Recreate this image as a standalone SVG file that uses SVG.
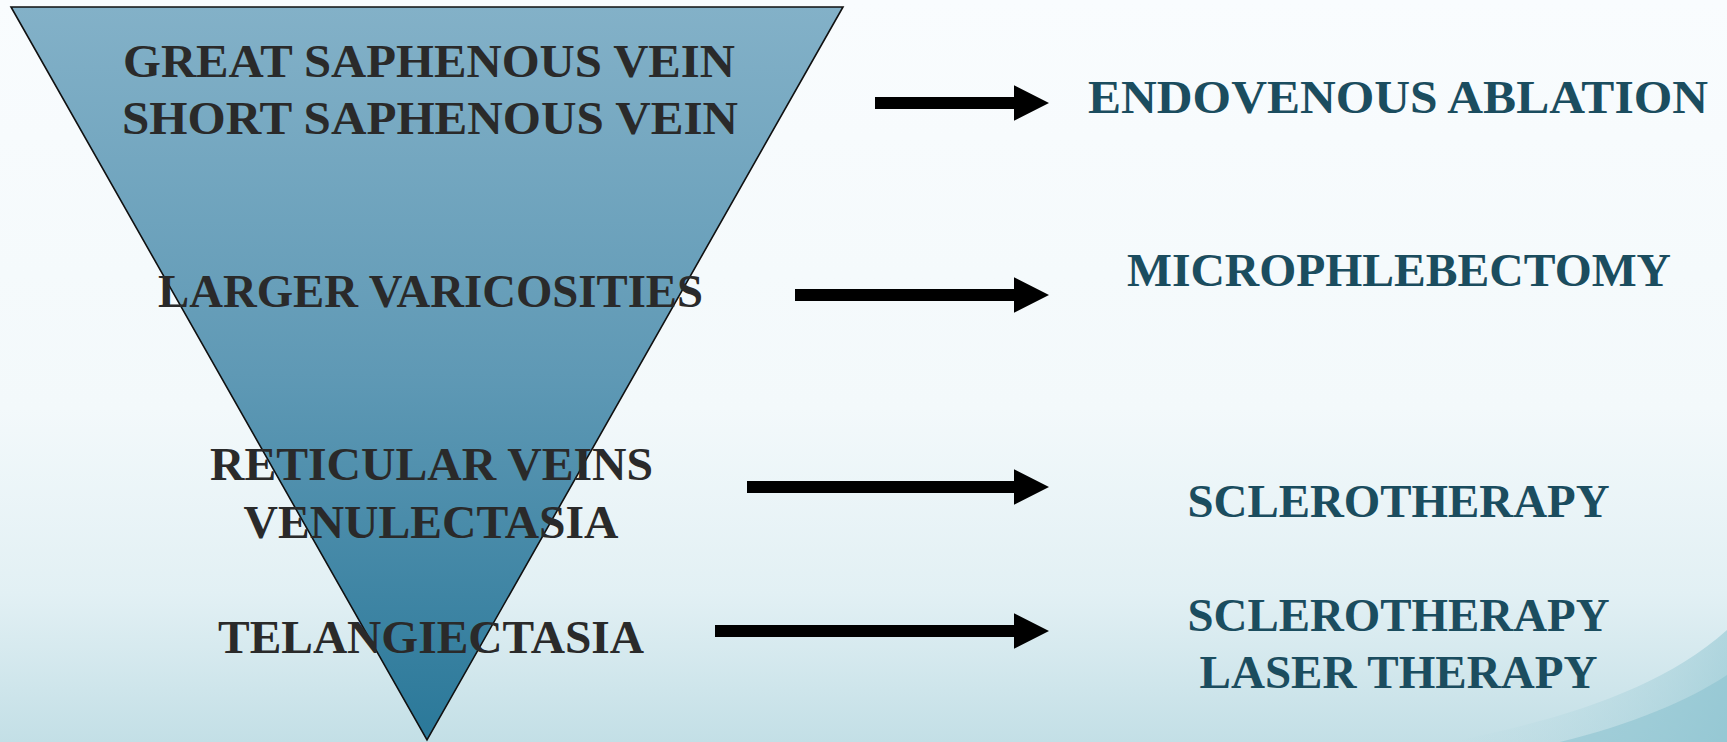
<svg xmlns="http://www.w3.org/2000/svg" width="1727" height="742" viewBox="0 0 1727 742">
  <defs>
    <linearGradient id="bg" x1="0" y1="0" x2="0" y2="1">
      <stop offset="0" stop-color="#f9fcfe"/>
      <stop offset="0.55" stop-color="#f3f9fb"/>
      <stop offset="0.8" stop-color="#e2f0f4"/>
      <stop offset="1" stop-color="#c3dfe6"/>
    </linearGradient>
    <linearGradient id="swoosh" x1="0" y1="0" x2="1" y2="0">
      <stop offset="0" stop-color="#b5d9e1" stop-opacity="0"/>
      <stop offset="1" stop-color="#8ec4d0"/>
    </linearGradient>
    <linearGradient id="tri" x1="0" y1="0" x2="0" y2="1">
      <stop offset="0" stop-color="#83b1c8"/>
      <stop offset="0.5" stop-color="#5f99b5"/>
      <stop offset="1" stop-color="#2a7899"/>
    </linearGradient>
    <style>
      .lt { font-family: "Liberation Serif", "Times New Roman", serif; font-weight: bold; font-size: 46px; fill: #2a2a2a; text-anchor: middle; }
      .rt { font-family: "Liberation Serif", "Times New Roman", serif; font-weight: bold; font-size: 46px; fill: #1b4d5f; text-anchor: middle; }
      .arrow { fill: #000000; }
    </style>
  </defs>
  <rect x="0" y="0" width="1727" height="742" fill="url(#bg)"/>
  <path d="M1450,742 C1560,720 1660,690 1727,630 L1727,742 Z" fill="url(#swoosh)" opacity="0.55"/>
  <path d="M1560,742 C1630,725 1690,700 1727,675 L1727,742 Z" fill="#86c0cd" opacity="0.5"/>

  <g id="funnel">
    <polygon points="11,7 843,7 427,740" fill="url(#tri)" stroke="#111111" stroke-width="1.6" stroke-linejoin="miter"/>
  </g>

  <g id="node-saphenous">
    <text class="lt" x="429" y="77" textLength="612" lengthAdjust="spacingAndGlyphs">GREAT SAPHENOUS VEIN</text>
    <text class="lt" x="430" y="134" textLength="616" lengthAdjust="spacingAndGlyphs">SHORT SAPHENOUS VEIN</text>
  </g>
  <g id="node-varicosities">
    <text class="lt" x="430.5" y="307" textLength="545" lengthAdjust="spacingAndGlyphs">LARGER VARICOSITIES</text>
  </g>
  <g id="node-reticular">
    <text class="lt" x="431.5" y="480" textLength="443" lengthAdjust="spacingAndGlyphs">RETICULAR VEINS</text>
    <text class="lt" x="431" y="538" textLength="375" lengthAdjust="spacingAndGlyphs">VENULECTASIA</text>
  </g>
  <g id="node-telangiectasia">
    <text class="lt" x="431" y="653" textLength="426" lengthAdjust="spacingAndGlyphs">TELANGIECTASIA</text>
  </g>

  <g id="connectors">
    <path class="arrow" d="M875,97 H1014 V85.3 L1049,103 L1014,120.7 V109 H875 Z"/>
    <path class="arrow" d="M795,289 H1014 V277.3 L1049,295 L1014,312.7 V301 H795 Z"/>
    <path class="arrow" d="M747,481 H1014 V469.3 L1049,487 L1014,504.7 V493 H747 Z"/>
    <path class="arrow" d="M715,625 H1014 V613.3 L1049,631 L1014,648.7 V637 H715 Z"/>
  </g>

  <g id="node-endovenous">
    <text class="rt" x="1398" y="113" textLength="620" lengthAdjust="spacingAndGlyphs">ENDOVENOUS ABLATION</text>
  </g>
  <g id="node-microphlebectomy">
    <text class="rt" x="1399" y="286" textLength="544" lengthAdjust="spacingAndGlyphs">MICROPHLEBECTOMY</text>
  </g>
  <g id="node-sclerotherapy">
    <text class="rt" x="1398.5" y="516.5" textLength="422" lengthAdjust="spacingAndGlyphs">SCLEROTHERAPY</text>
  </g>
  <g id="node-sclero-laser">
    <text class="rt" x="1398.5" y="630.5" textLength="422" lengthAdjust="spacingAndGlyphs">SCLEROTHERAPY</text>
    <text class="rt" x="1398.5" y="688" textLength="398" lengthAdjust="spacingAndGlyphs">LASER THERAPY</text>
  </g>
</svg>
